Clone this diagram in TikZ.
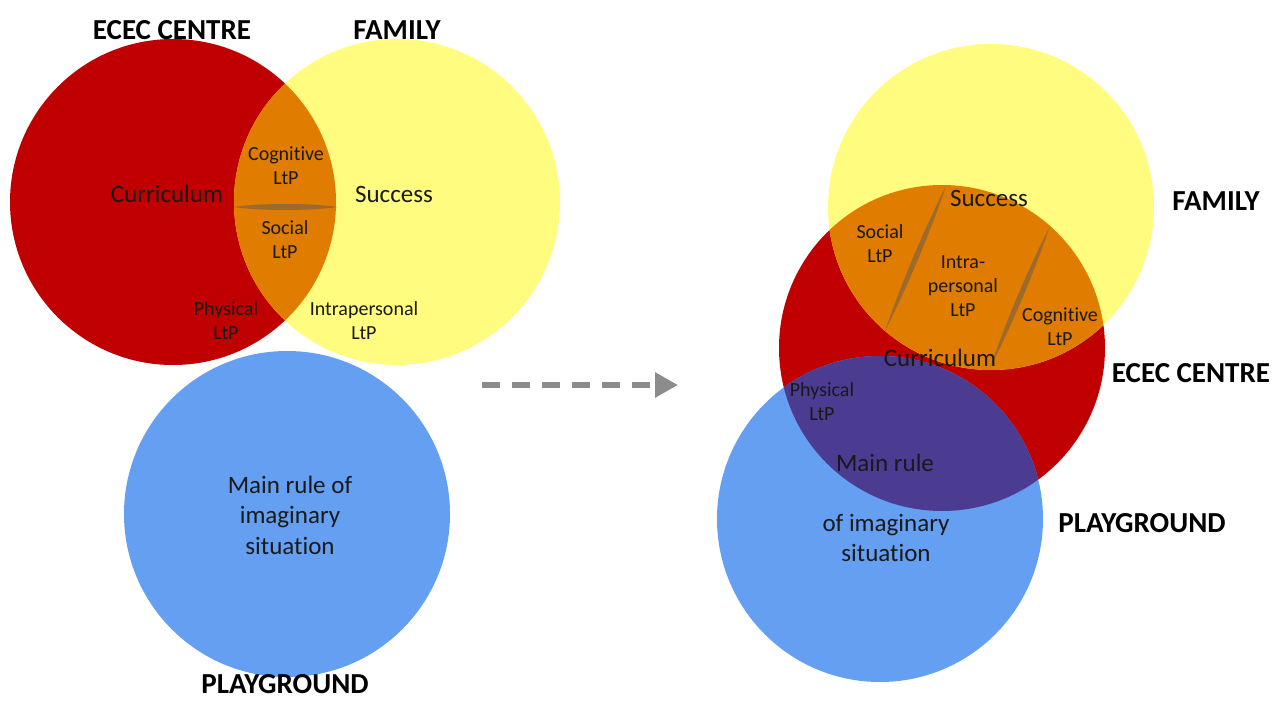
\documentclass[tikz,border=0pt]{standalone}
\usepackage{fontspec}
\setmainfont{Carlito}[Ligatures=NoCommon]
\usetikzlibrary{arrows.meta}

\definecolor{ecred}{HTML}{C00000}
\definecolor{famyellow}{HTML}{FFFC80}
\definecolor{lensorange}{HTML}{E07C00}
\definecolor{playblue}{HTML}{649FF2}
\definecolor{mixpurple}{HTML}{4B3C91}
\definecolor{seam}{HTML}{9C6A2C}
\definecolor{arrowgray}{HTML}{8C8C8C}

\tikzset{
  title/.style={font=\fontsize{29}{34}\selectfont\bfseries, text=black, inner sep=0pt},
  biglabel/.style={font=\fontsize{25}{30.5}\selectfont, text=black!90, inner sep=0pt, align=center},
  smalllabel/.style={font=\fontsize{20}{24}\selectfont, text=black!90, inner sep=0pt, align=center},
  seamfill/.style={fill=seam},
  flow/.style={line width=6pt, arrowgray, dash pattern=on 18pt off 12pt,
    -{Triangle[length=23pt,width=24pt]}}
}

\begin{document}
\begin{tikzpicture}[x=1pt,y=-1pt]
\useasboundingbox (0,0) rectangle (1288,701);

% ---------- separate spheres ----------
\fill[ecred]      (173,202) circle (163pt);
\fill[famyellow]  (397,202) circle (163pt);
\fill[playblue]   (287,514) circle (163pt);
\begin{scope}
  \clip (173,202) circle (163pt);
  \fill[lensorange] (397,202) circle (163pt);
\end{scope}
% seam between the two shared LtP fields
\fill[seamfill] (234,207) .. controls (260,203) and (311,203) .. (337,207)
                          .. controls (311,211) and (260,211) .. (234,207);

\node[title] (lecec) at (172,30) {ECEC CENTRE};
\node[title] (lfam)  at (397,30) {FAMILY};
\node[title] (lplay) at (285,684) {PLAYGROUND};
\node[biglabel] (lcurr) at (167,194) {Curriculum};
\node[biglabel] (lsucc) at (394,194) {Success};
\node[smalllabel] (lcog)  at (286,166) {Cognitive\\LtP};
\node[smalllabel] (lsoc)  at (285,240) {Social\\LtP};
\node[smalllabel] (lphys) at (226,321) {Physical\\LtP};
\node[smalllabel] (lintra) at (364,321) {Intrapersonal\\LtP};
\node[biglabel] (lrule) at (290,515) {Main rule of\\imaginary\\situation};

% ---------- transition arrow ----------
\coordinate (flowstart) at (482,385);
\coordinate (flowend)   at (678,385);
\draw[flow] (flowstart) -- (flowend);

% ---------- merged spheres ----------
\fill[ecred]      (942,348) circle (163pt);
\fill[famyellow]  (991,207) circle (163pt);
\fill[playblue]   (880,519) circle (163pt);
\begin{scope}
  \clip (942,348) circle (163pt);
  \fill[lensorange] (991,207) circle (163pt);
  \fill[mixpurple]  (880,519) circle (163pt);
\end{scope}
% seams between the three shared LtP fields
\fill[seamfill] (946,186) .. controls (928.9,235.7) and (908.5,284.0) .. (885,331)
                          .. controls (902.1,281.3) and (922.5,233.0) .. (946,186);
\fill[seamfill] (1050,226) .. controls (1033.2,274.7) and (1013.2,322.0) .. (990,368)
                           .. controls (1006.8,319.3) and (1026.8,272.0) .. (1050,226);

\node[title] (rfam)  at (1216,201) {FAMILY};
\node[title] (recec) at (1191,373) {ECEC CENTRE};
\node[title] (rplay) at (1142,523) {PLAYGROUND};
\node[biglabel] (rsucc) at (989,198) {Success};
\node[biglabel] (rcurr) at (940,358) {Curriculum};
\node[smalllabel] (rsoc)   at (880,244) {Social\\LtP};
\node[smalllabel] (rintra) at (963,286) {Intra-\\personal\\LtP};
\node[smalllabel] (rcog)   at (1060,327) {Cognitive\\LtP};
\node[smalllabel] (rphys)  at (822,402) {Physical\\LtP};
\node[biglabel] (rrule1) at (885,463) {Main rule};
\node[biglabel] (rrule2) at (886,538) {of imaginary\\situation};
\end{tikzpicture}
\end{document}
